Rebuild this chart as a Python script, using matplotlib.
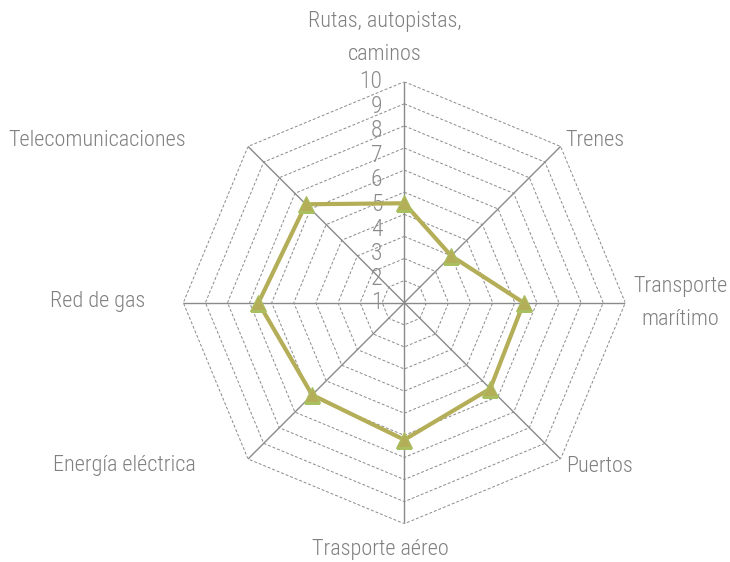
import numpy as np
import matplotlib
matplotlib.use('Agg')
import matplotlib.pyplot as plt
import matplotlib.transforms as mtransforms
from matplotlib import font_manager

# the original uses a condensed face; take a narrow one if it is installed
names = {f.name for f in font_manager.fontManager.ttflist}
narrow = [n for n in ['Roboto Condensed', 'Liberation Sans Narrow', 'DejaVu Sans Condensed'] if n in names]
plt.rcParams['font.family'] = narrow + ['Roboto', 'DejaVu Sans']

# Data
categories = ['Rutas, autopistas,\ncaminos', 'Trenes', 'Transporte\nmarítimo', 'Puertos',
              'Trasporte aéreo', 'Energía eléctrica', 'Red de gas', 'Telecomunicaciones']
values = [4.5, 3.0, 5.4, 5.5, 6.2, 5.9, 6.6, 6.3]
rings = list(range(1, 11))

line_color = '#b5ae58'
grid_color = '#8a8a8a'
text_color = '#808080'

n = len(categories)
angles = np.linspace(0, 2 * np.pi, n, endpoint=False)

fig = plt.figure(figsize=(7.3, 5.62), dpi=100)
ax = fig.add_axes([0.2511, 0.0681, 0.6055, 0.7865], projection='polar')
ax.set_theta_zero_location('N')
ax.set_theta_direction(-1)
ax.set_ylim(0, 10)
ax.axis('off')

# dashed octagon rings
closed = np.append(angles, angles[0])
for r in rings:
    ax.plot(closed, [r] * (n + 1), color=grid_color, lw=0.7, ls=(0, (3, 2)), zorder=1)

# spokes
for a in angles:
    ax.plot([a, a], [0, 10], color=grid_color, lw=1.0, zorder=1)

# ring numbers - spread evenly from centre to the outer ring, like the original
shift = mtransforms.ScaledTranslation(-22 / 100, 0, fig.dpi_scale_trans)
for i, r in enumerate(rings):
    ax.text(0, i * 10 / (len(rings) - 1), str(r), ha='right', va='center', fontsize=17,
            fontweight='light', color='#8a8a8a', transform=ax.transData + shift)

# series
vals = values + values[:1]
ax.plot(closed, vals, color=line_color, lw=3, zorder=3, solid_joinstyle='miter')
ax.plot(angles, values, ls='none', marker='^', ms=11, color=line_color,
        markeredgecolor='#a8c060', markeredgewidth=0.8, zorder=4)

# category labels
label_pos = [(385, 38), (595, 140), (680, 303), (600, 466),
             (380, 549), (124, 466), (98, 302), (97, 140)]
for lab, (x, y) in zip(categories, label_pos):
    fig.text(x / 730, 1 - y / 562, lab, ha='center', va='center', fontsize=16,
             fontweight='light', color=text_color, linespacing=1.75)

fig.savefig('out.png', dpi=100)
